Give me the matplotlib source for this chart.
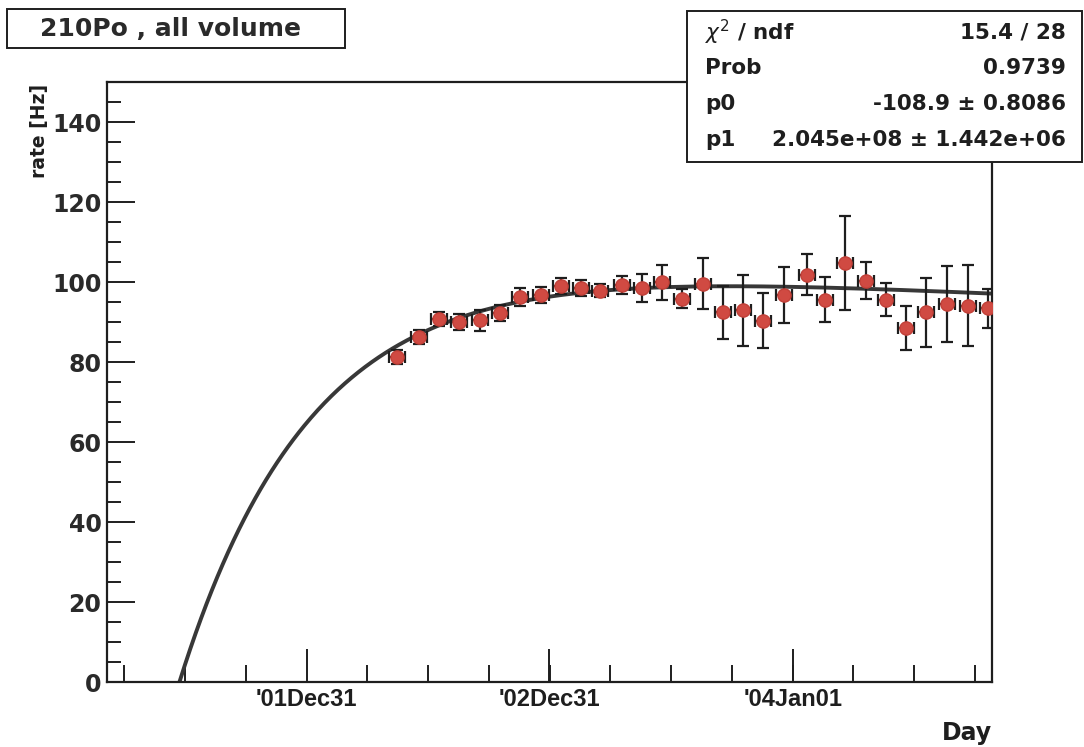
"""
210Po rate vs. time, all volume (ROOT-style fit plot)
"""

import numpy as np
import matplotlib
matplotlib.use('Agg')
import matplotlib.pyplot as plt
from matplotlib.patches import Rectangle
from matplotlib.ticker import FixedLocator, MultipleLocator

# --- data -------------------------------------------------------------
start_date = np.datetime64('2001-03-06')   # day 0 of the x axis

days = [436, 469, 499, 529, 561, 591, 621, 652, 682, 712,
        741, 774, 804, 834, 864, 896, 926, 956, 986, 1018,
        1052, 1079, 1109, 1141, 1171, 1201, 1231, 1263, 1294, 1324]
rate = [81.2, 86.2, 90.7, 89.9, 90.4, 92.3, 96.3, 96.8, 98.9, 98.5,
        97.8, 99.3, 98.5, 99.9, 95.8, 99.6, 92.4, 92.9, 90.3, 96.8,
        101.8, 95.6, 104.8, 100.3, 95.6, 88.5, 92.4, 94.5, 94.1, 93.4]
rate_err = [1.8, 1.8, 1.8, 2.0, 2.6, 2.0, 2.3, 2.0, 2.0, 2.1,
            1.6, 2.2, 3.5, 4.3, 2.4, 6.4, 6.6, 8.8, 6.9, 7.0,
            5.1, 5.6, 11.7, 4.6, 4.2, 5.5, 8.7, 9.5, 10.2, 4.8]
day_err = 12

tick_dates = ['2001-12-31', '2002-12-31', '2004-01-01']
tick_labels = ["'01Dec31", "'02Dec31", "'04Jan01"]

# fit: 210Pb -> 210Po growth, starting at -p0 days
p0 = -108.9
amp = 108.0
half_po = 138.4            # days
half_pb = 22.3 * 365.25    # days

stats_rows = [(r'$\chi^{2}$ / ndf', '15.4 / 28'),
              ('Prob', '0.9739'),
              ('p0', '-108.9 \u00b1 0.8086'),
              ('p1', '2.045e+08 \u00b1 1.442e+06')]

INK = '#1e1e1e'
BOLD = 'DejaVu Sans'

fig = plt.figure(figsize=(10.84, 7.47), dpi=100)
ax = fig.add_axes([0.0987, 0.087, 0.8164, 0.8032])

# fit curve
lam_po = np.log(2) / half_po
lam_pb = np.log(2) / half_pb
t = np.linspace(-p0, 1330, 600)
dt = t + p0
ax.plot(t, amp * (np.exp(-lam_pb * dt) - np.exp(-lam_po * dt)),
        color='#383838', lw=2.8, zorder=2)

# data points
ax.errorbar(days, rate, yerr=rate_err, xerr=day_err, fmt='o',
            color='#d04a42', mec='#c24038', ms=9.5,
            ecolor=INK, elinewidth=1.6, capsize=4, capthick=1.6,
            zorder=3)

ax.set_xlim(0, 1330)
ax.set_ylim(0, 150)

tick_pos = [(np.datetime64(d) - start_date).astype(int) for d in tick_dates]
ax.xaxis.set_major_locator(FixedLocator(tick_pos))
ax.xaxis.set_minor_locator(FixedLocator(
    np.arange(tick_pos[0] - 3 * 91.3, 1330, 91.3)))
ax.set_xticklabels(tick_labels, fontfamily='Liberation Sans',
                   fontweight='bold', fontsize=17, color=INK)

ax.yaxis.set_major_locator(MultipleLocator(20))
ax.yaxis.set_minor_locator(MultipleLocator(5))
for lab in ax.get_yticklabels():
    lab.set_fontfamily(BOLD)
    lab.set_fontweight('bold')
    lab.set_fontsize(17)
    lab.set_color('#2a2a2a')

ax.tick_params(which='both', direction='in', top=False, right=False,
               width=1.4, color=INK)
ax.tick_params(axis='y', which='major', length=20, pad=4)
ax.tick_params(axis='y', which='minor', length=10)
ax.tick_params(axis='x', which='major', length=24, pad=4)
ax.tick_params(axis='x', which='minor', length=12)
for sp in ax.spines.values():
    sp.set_linewidth(1.6)
    sp.set_color(INK)

# axis titles
fig.text(40 / 1084, 1 - 84 / 747, 'rate [Hz]', rotation=90,
         ha='center', va='top', fontsize=13.5, fontweight='bold',
         fontfamily=BOLD, color=INK)
fig.text(992 / 1084, 1 - 733 / 747, 'Day', ha='right', va='center',
         fontsize=17, fontweight='bold', fontfamily=BOLD, color=INK)

# title box
fig.add_artist(Rectangle((7 / 1084, 1 - 48 / 747), 338 / 1084, 39 / 747,
                         transform=fig.transFigure, fill=True, fc='white',
                         ec=INK, lw=1.4))
fig.text(171 / 1084, 1 - 29 / 747, '210Po , all volume', ha='center',
         va='center', fontsize=18, fontweight='bold', fontfamily=BOLD,
         color='#2a2a2a')

# stats box
fig.add_artist(Rectangle((687 / 1084, 1 - 162 / 747), 395 / 1084,
                         151 / 747, transform=fig.transFigure,
                         fc='white', ec=INK, lw=1.4, zorder=5))
for i, (name, val) in enumerate(stats_rows):
    y = 1 - (32 + 36 * i) / 747
    fig.text(705 / 1084, y, name, ha='left', va='center', fontsize=15.5,
             fontweight='bold', fontfamily=BOLD, color=INK, zorder=6)
    fig.text(1066 / 1084, y, val, ha='right', va='center', fontsize=15.5,
             fontweight='bold', fontfamily=BOLD, color=INK, zorder=6)

fig.savefig('out.png', dpi=100, facecolor='white')
